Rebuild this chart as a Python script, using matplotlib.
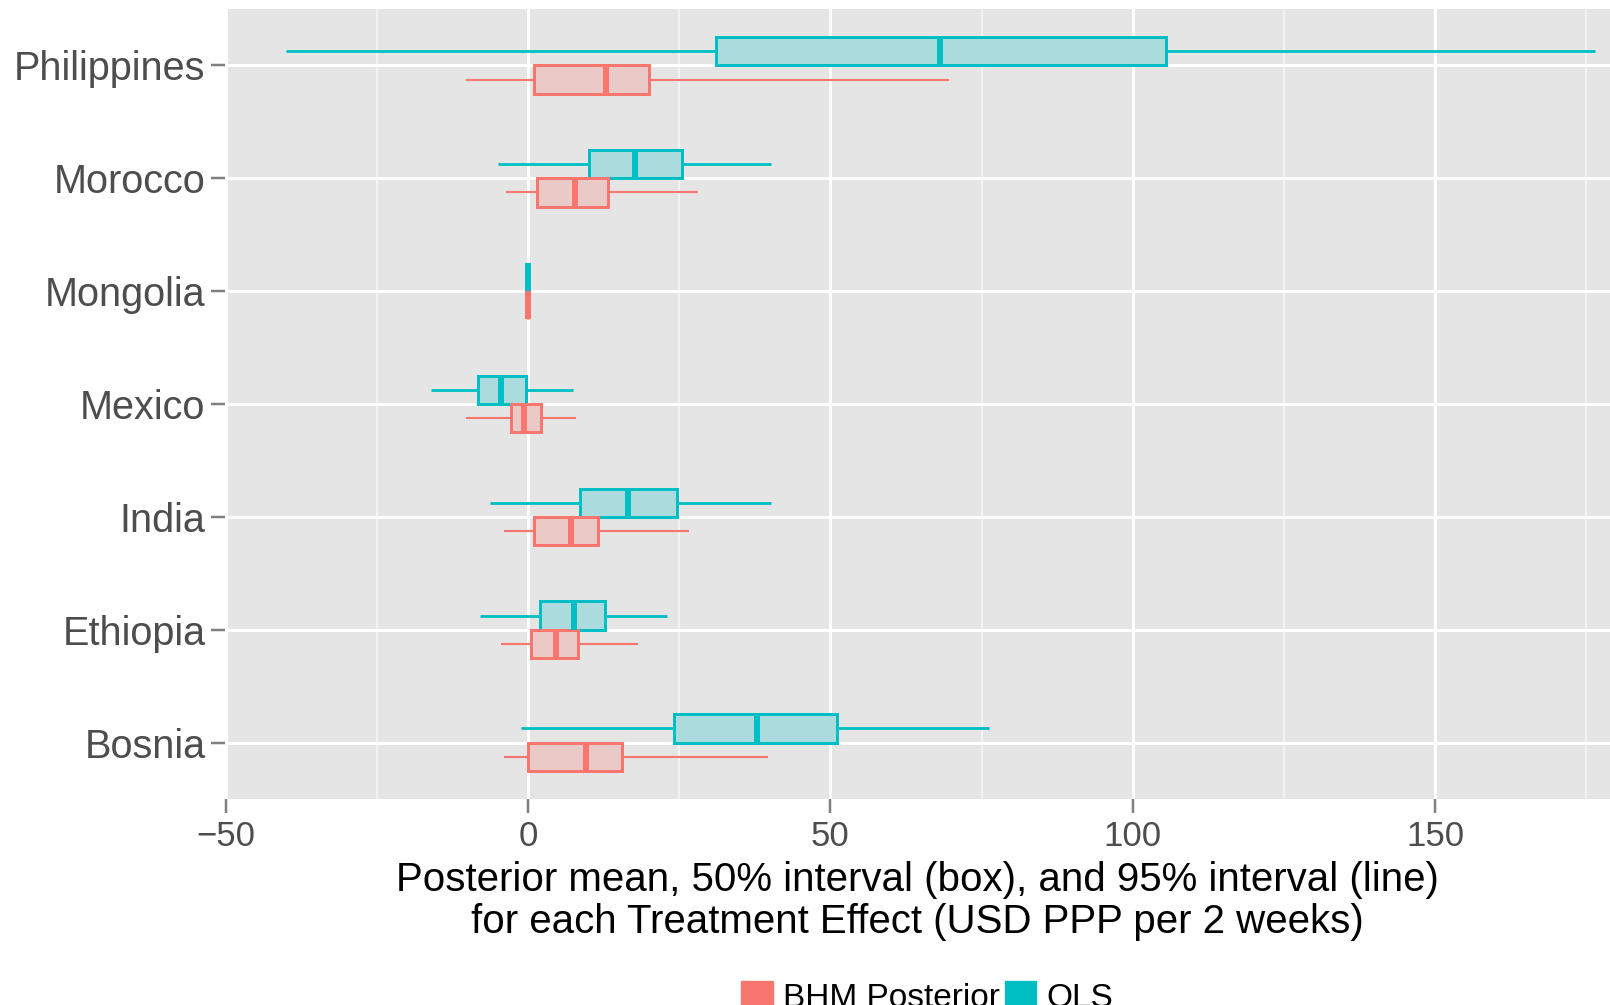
import matplotlib

matplotlib.use("Agg")
import matplotlib.pyplot as plt
from matplotlib.patches import Patch

# --- data (rows listed bottom to top) ---
countries = ["Bosnia", "Ethiopia", "India", "Mexico", "Mongolia", "Morocco", "Philippines"]

# OLS: 2.5%, 25%, median, 75%, 97.5%
ols_lo = [-1.1, -7.9, -6.3, -16.0, 0.0, -5.0, -40.0]
ols_q1 = [24.1, 2.0, 8.6, -8.3, 0.0, 10.1, 31.0]
ols_med = [37.9, 7.6, 16.6, -4.5, 0.0, 17.7, 68.1]
ols_q3 = [51.1, 12.7, 24.7, -0.4, 0.0, 25.5, 105.5]
ols_hi = [76.2, 22.9, 40.1, 7.5, 0.0, 40.2, 176.5]

# BHM posterior: 2.5%, 25%, mean, 75%, 97.5%
bhm_lo = [-3.9, -4.4, -3.9, -10.2, 0.0, -3.6, -10.3]
bhm_q1 = [0.0, 0.5, 1.0, -2.9, 0.0, 1.5, 0.9]
bhm_med = [9.5, 4.6, 7.1, -0.7, 0.0, 7.8, 12.9]
bhm_q3 = [15.5, 8.3, 11.6, 2.1, 0.0, 13.2, 20.0]
bhm_hi = [39.7, 18.1, 26.6, 8.0, 0.0, 28.1, 69.6]

xticks = [-50, 0, 50, 100, 150]
xticklabels = ["\u221250", "0", "50", "100", "150"]
minor_xticks = [-25, 25, 75, 125, 175]

TEAL = "#00BFC4"
PINK = "#F8766D"
PX = 0.72  # one pixel in points at dpi 100
FONT = ["Liberation Sans", "DejaVu Sans"]


def make_stats(lo, q1, med, q3, hi):
    return [
        dict(whislo=a, q1=b, med=c, q3=d, whishi=e, fliers=[])
        for a, b, c, d, e in zip(lo, q1, med, q3, hi)
    ]


fig = plt.figure(figsize=(16.1, 10.05), dpi=100)
ax = fig.add_axes([0.1398, 0.205, 0.8602, 0.786])
ax.set_facecolor("#E5E5E5")

rows = list(range(1, len(countries) + 1))


def draw(stats, offset, color, fill, whisk_lw):
    ax.bxp(
        stats,
        positions=[r + offset for r in rows],
        widths=0.25,
        vert=False,
        patch_artist=True,
        showcaps=False,
        showfliers=False,
        boxprops=dict(facecolor=fill, edgecolor=color, linewidth=3 * PX),
        whiskerprops=dict(color=color, linewidth=whisk_lw * PX, solid_capstyle="butt"),
        medianprops=dict(color=color, linewidth=6 * PX, solid_capstyle="butt"),
        zorder=3,
    )


draw(make_stats(ols_lo, ols_q1, ols_med, ols_q3, ols_hi), 0.125, TEAL, "#ACDBDE", 2.8)
draw(make_stats(bhm_lo, bhm_q1, bhm_med, bhm_q3, bhm_hi), -0.125, PINK, "#EAC9C7", 2.1)

ax.set_xlim(-50.1, 178.9)
ax.set_ylim(0.5, 7.5)
ax.set_yticks(rows)
ax.set_yticklabels(countries)
ax.set_xticks(xticks)
ax.set_xticklabels(xticklabels)
ax.set_xticks(minor_xticks, minor=True)

ax.grid(which="major", color="white", linewidth=3 * PX, zorder=0)
ax.grid(which="minor", axis="x", color="#F2F2F2", linewidth=2.2 * PX, zorder=0)
ax.set_axisbelow(True)
for s in ax.spines.values():
    s.set_visible(False)

ax.tick_params(axis="both", which="major", length=14 * PX, width=2.5 * PX, color="#808080",
               labelcolor="#4D4D4D", labelsize=28.5)
ax.tick_params(axis="y", pad=4)
ax.tick_params(axis="x", pad=5, labelsize=25)
ax.tick_params(which="minor", length=0)
for lab in ax.get_xticklabels() + ax.get_yticklabels():
    lab.set_family(FONT)

ax.set_xlabel(
    "Posterior mean, 50% interval (box), and 95% interval (line)\n"
    "for each Treatment Effect (USD PPP per 2 weeks)",
    fontsize=29, family=FONT, labelpad=6, linespacing=1.12,
)

handles = [
    Patch(facecolor=PINK, edgecolor=PINK, label="BHM Posterior"),
    Patch(facecolor=TEAL, edgecolor=TEAL, label="OLS"),
]
fig.legend(
    handles=handles, loc="upper left", bbox_to_anchor=(741 / 1610, 0.024), ncol=2,
    frameon=False, prop=dict(family="Liberation Sans", size=24),
    handlelength=0.95, handleheight=0.95, handletextpad=0.3, columnspacing=0.15,
    borderpad=0, borderaxespad=0,
)

fig.savefig("out.png", dpi=100)
